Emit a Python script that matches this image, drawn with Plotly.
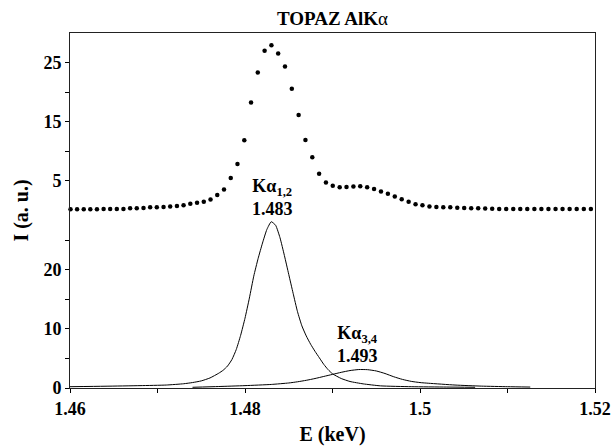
import plotly.graph_objects as go

# ---------------- data ----------------
# Measured spectrum (dotted curve), intensities on the upper scale (labels 5, 15, 25)
E_meas = [1.46006, 1.46081, 1.46157, 1.46232, 1.46308, 1.46384, 1.46459, 1.46535, 1.46611, 1.46687,
          1.46763, 1.46840, 1.46916, 1.46992, 1.47069, 1.47145, 1.47222, 1.47298, 1.47375, 1.47452,
          1.47529, 1.47606, 1.47683, 1.47760, 1.47837, 1.47914, 1.47992, 1.48069, 1.48146, 1.48224,
          1.48302, 1.48379, 1.48457, 1.48535, 1.48613, 1.48691, 1.48769, 1.48847, 1.48925, 1.49003,
          1.49082, 1.49160, 1.49239, 1.49317, 1.49396, 1.49475, 1.49554, 1.49633, 1.49712, 1.49791,
          1.49870, 1.49949, 1.50028, 1.50108, 1.50187, 1.50266, 1.50346, 1.50426, 1.50505, 1.50585,
          1.50665, 1.50745, 1.50825, 1.50905, 1.50985, 1.51066, 1.51146, 1.51226, 1.51307, 1.51387,
          1.51468, 1.51549, 1.51629, 1.51710, 1.51791, 1.51872, 1.51953]
I_meas = [0.20, 0.20, 0.20, 0.20, 0.20, 0.24, 0.24, 0.25, 0.25, 0.39,
          0.39, 0.44, 0.56, 0.56, 0.61, 0.66, 0.78, 0.87, 1.12, 1.29,
          1.49, 1.85, 2.61, 3.55, 5.48, 7.86, 11.87, 18.27, 23.31, 26.98,
          27.95, 26.54, 24.33, 20.59, 16.15, 11.90, 9.02, 6.21, 4.74, 4.18,
          3.92, 3.97, 4.06, 4.09, 3.92, 3.62, 3.21, 2.82, 2.36, 1.92,
          1.46, 1.07, 0.90, 0.66, 0.61, 0.56, 0.53, 0.48, 0.44, 0.39,
          0.36, 0.32, 0.29, 0.24, 0.24, 0.24, 0.24, 0.24, 0.24, 0.24,
          0.24, 0.24, 0.24, 0.24, 0.24, 0.24, 0.24]

# Fitted component K-alpha 1,2 (lower scale)
E_k12 = [1.4600, 1.4640, 1.4680, 1.4710, 1.4730, 1.4740, 1.4750, 1.4760, 1.4770, 1.4775,
         1.4780, 1.4785, 1.4790, 1.4795, 1.4800, 1.4805, 1.4810, 1.4815, 1.4820, 1.4825,
         1.4830, 1.4835, 1.4840, 1.4845, 1.4850, 1.4855, 1.4860, 1.4865, 1.4870, 1.4875,
         1.4880, 1.4885, 1.4890, 1.4895, 1.4900, 1.4910, 1.4920, 1.4935, 1.4955, 1.4990,
         1.5030, 1.5063]
I_k12 = [0.22, 0.30, 0.40, 0.50, 0.72, 0.92, 1.20, 1.70, 2.50, 3.00,
         3.70, 4.80, 6.50, 8.90, 11.80, 15.20, 18.90, 21.90, 24.50, 26.80,
         28.10, 27.50, 25.40, 22.40, 19.20, 16.00, 12.90, 10.50, 8.80, 7.40,
         6.20, 5.10, 4.00, 3.10, 2.40, 1.60, 1.10, 0.70, 0.36, 0.22,
         0.16, 0.12]

# Fitted component K-alpha 3,4 (lower scale)
E_k34 = [1.4740, 1.4770, 1.4800, 1.4830, 1.4850, 1.4860, 1.4870, 1.4880, 1.4890, 1.4900,
         1.4910, 1.4920, 1.4930, 1.4940, 1.4950, 1.4960, 1.4970, 1.4980, 1.4990, 1.5000,
         1.5010, 1.5040, 1.5070, 1.5100, 1.5126]
I_k34 = [0.12, 0.25, 0.40, 0.60, 0.85, 1.05, 1.30, 1.60, 1.95, 2.30,
         2.65, 2.95, 3.12, 3.10, 2.88, 2.45, 1.90, 1.45, 1.12, 0.92,
         0.80, 0.50, 0.32, 0.22, 0.16]

# Peak labels
peak_names = ["Kα<sub>1,2</sub>", "Kα<sub>3,4</sub>"]
peak_energies = ["1.483", "1.493"]
peak_x = [1.4831, 1.4928]
peak_y = [28.1, 3.15]

# Axis ticks
x_tick_vals = [1.46, 1.48, 1.50, 1.52]
x_tick_text = ["1.46", "1.48", "1.5", "1.52"]
x_minor_vals = [1.47, 1.49, 1.51]
y_tick_vals = [0, 10, 20, 35, 45, 55]
y_tick_text = ["0", "10", "20", "5", "15", "25"]
y_minor_vals = [5, 15, 25, 40, 50]

# offset of the upper (measured) scale on the shared y axis
UPPER_OFFSET = 30

# ---------------- figure ----------------
SERIF = "Liberation Serif"
FIG_W, FIG_H = 611, 446

fig = go.Figure()

fig.add_trace(go.Scatter(
    x=E_k12, y=I_k12, mode="lines",
    line=dict(color="black", width=1, shape="spline", smoothing=0.5),
    showlegend=False, hoverinfo="skip"))

fig.add_trace(go.Scatter(
    x=E_k34, y=I_k34, mode="lines",
    line=dict(color="black", width=1, shape="spline", smoothing=0.5),
    showlegend=False, hoverinfo="skip"))

fig.add_trace(go.Scatter(
    x=E_meas, y=[v + UPPER_OFFSET for v in I_meas], mode="markers",
    marker=dict(color="black", size=4.5),
    showlegend=False, hoverinfo="skip", cliponaxis=False))

for name, en, px_, py_ in zip(peak_names, peak_energies, peak_x, peak_y):
    fig.add_annotation(
        x=px_, y=py_, xref="x", yref="y",
        text=f"<b>{name}<br>{en}</b>",
        showarrow=False, yanchor="bottom", xanchor="center", yshift=1,
        font=dict(family=SERIF, size=18, color="black"), align="center")

fig.update_layout(
    template="none",
    width=FIG_W, height=FIG_H,
    margin=dict(l=70, r=16, t=33, b=58),
    plot_bgcolor="white", paper_bgcolor="white",
    title=dict(text="<b>TOPAZ AlK</b>α", x=0.5, xref="paper", xanchor="center",
               y=1 - 18 / FIG_H, yref="container", yanchor="middle",
               font=dict(family=SERIF, size=19, color="black")),
    font=dict(family=SERIF, color="black"),
)

common_axis = dict(
    ticks="outside", ticklen=4, tickwidth=1, tickcolor="black",
    showline=True, linecolor="#222", linewidth=1, mirror=True,
    showgrid=False, zeroline=False, automargin=False,
    tickfont=dict(family=SERIF, size=18, color="black", weight="bold"),
)

fig.update_xaxes(
    range=[1.46, 1.52], tickmode="array", tickvals=x_tick_vals, ticktext=x_tick_text,
    ticklabeloverflow="allow",
    minor=dict(tickmode="array", tickvals=x_minor_vals, ticks="outside", ticklen=4,
               tickwidth=1, tickcolor="black", showgrid=False),
    title=dict(text="<b>E (keV)</b>", standoff=10,
               font=dict(family=SERIF, size=20, color="black")),
    **common_axis)

fig.update_yaxes(
    range=[0, 60], tickmode="array", tickvals=y_tick_vals, ticktext=y_tick_text,
    minor=dict(tickmode="array", tickvals=y_minor_vals, ticks="outside", ticklen=4,
               tickwidth=1, tickcolor="black", showgrid=False),
    title=dict(text="<b>I (a. u.)</b>", standoff=9,
               font=dict(family=SERIF, size=20, color="black")),
    **common_axis)

# remove the default 8 px page margin so the 611x446 figure fills the window exactly
fig.write_html("out.html",
               config={"displayModeBar": False, "staticPlot": True},
               post_script="document.body.style.margin='0px';document.body.style.overflow='hidden';")
